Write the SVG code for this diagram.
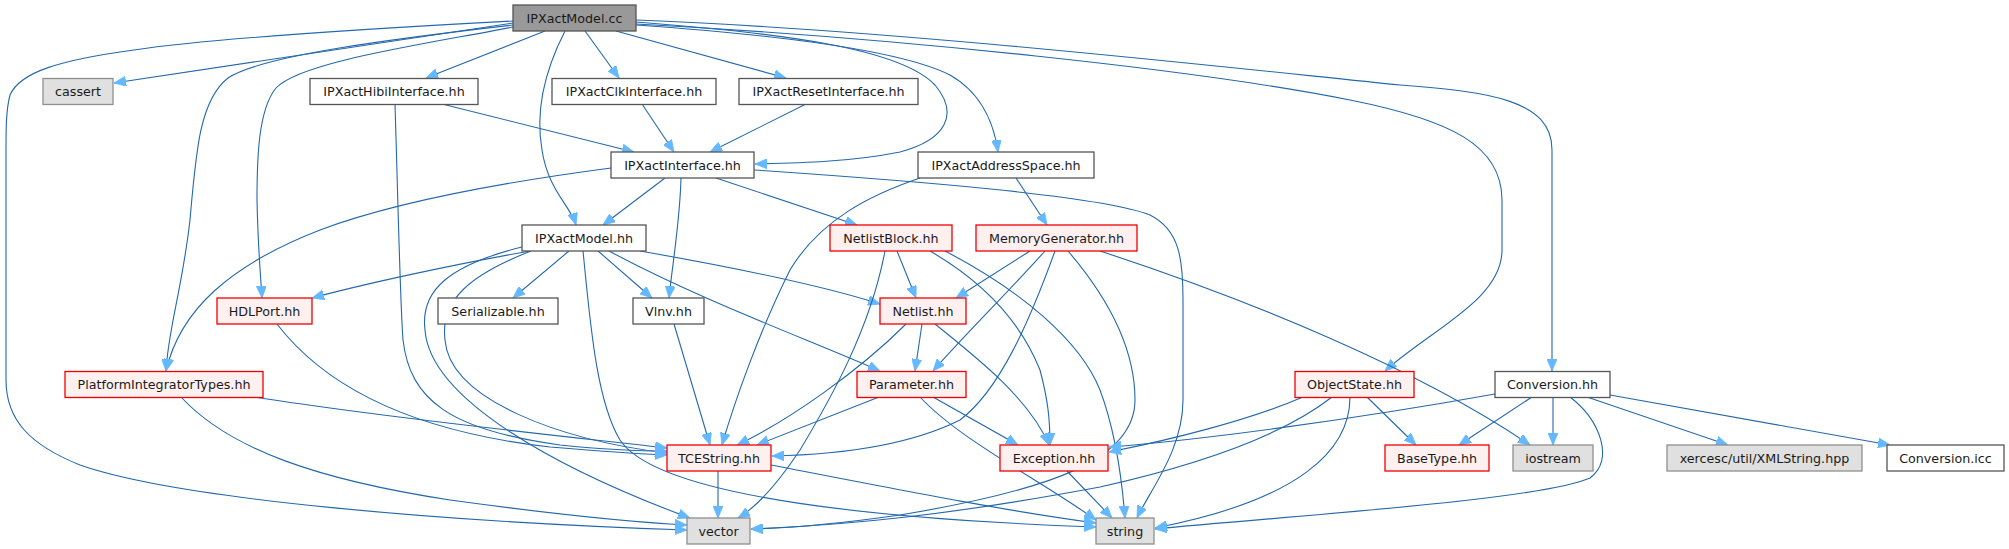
<svg xmlns="http://www.w3.org/2000/svg" width="2009" height="549" viewBox="0 0 2009 549">
<style>
.n rect{stroke-width:1.3}
.w rect{fill:#ffffff;stroke:#555555}
.r rect{fill:#fff0f0;stroke:#ee0000}
.g rect{fill:#e0e0e0;stroke:#8f8f8f}
.root rect{fill:#999999;stroke:#555555}
.n text{font-family:"DejaVu Sans",sans-serif;font-size:12.7px;fill:#1a1a1a;text-anchor:middle}
#edges path{fill:none;stroke:#2468ad;stroke-width:1.1;marker-end:url(#ah)}
</style>
<defs>
<marker id="ah" viewBox="0 0 12 10" refX="12" refY="5" markerWidth="12" markerHeight="10" markerUnits="userSpaceOnUse" orient="auto">
<polygon points="0,0 12,5 0,10" fill="#63b8ff" stroke="#63b8ff" stroke-width="0.8"/>
</marker>
</defs>
<rect width="2009" height="549" fill="#ffffff"/>
<g id="edges">
<path d="M513,23 L114,83"/>
<path d="M513,21 C400,27 220,37 134,50 C60,60 20,72 10,95 C6,110 6,130 6,150 L6,380 C6,420 30,445 80,465 C180,500 450,522 687,530"/>
<path d="M513,25 C400,38 262,55 228,78 C200,100 196,150 190,220 C182,290 168,330 166,371"/>
<path d="M513,27 C420,45 300,62 276,88 C258,110 257,160 257,200 C258,250 261,280 262,298"/>
<path d="M545,31 L426,78"/>
<path d="M565,31 C545,70 535,110 542,150 C548,190 570,205 576,225"/>
<path d="M585,31 L619,78"/>
<path d="M616,31 L786,78"/>
<path d="M636,22 C780,33 900,48 935,85 C960,115 945,140 900,152 C850,162 800,163 755,164"/>
<path d="M636,25 C780,35 900,50 950,75 C985,95 995,130 998,152"/>
<path d="M636,24 C900,38 1200,70 1350,100 C1450,120 1502,145 1502,200 L1502,250 C1502,300 1430,330 1385,371"/>
<path d="M636,20 C900,30 1250,70 1400,85 C1490,92 1552,100 1552,150 L1552,371"/>
<path d="M442,104 L634,152"/>
<path d="M395,104 C398,200 400,300 403,340 C410,400 450,430 560,445 C610,450 640,451 667,451"/>
<path d="M642,104 L674,152"/>
<path d="M806,104 L710,152"/>
<path d="M611,168 C520,180 400,200 320,230 C230,265 180,310 166,371"/>
<path d="M665,178 L603,225"/>
<path d="M681,178 C680,220 673,260 669,298"/>
<path d="M716,178 L857,225"/>
<path d="M754,170 C900,180 1100,195 1150,215 C1180,230 1183,260 1183,300 L1183,400 C1183,450 1150,490 1137,518"/>
<path d="M1016,178 L1047,225"/>
<path d="M920,178 C870,195 820,220 790,270 C760,330 735,400 722,445"/>
<path d="M530,251 C450,265 360,285 312,298"/>
<path d="M569,251 L513,298"/>
<path d="M598,251 L652,298"/>
<path d="M640,251 C720,265 820,285 880,304"/>
<path d="M609,251 C700,300 810,340 880,371"/>
<path d="M583,251 C590,320 596,400 620,440 C660,500 900,520 1096,527"/>
<path d="M522,247 C450,265 420,290 425,330 C430,400 560,470 690,518"/>
<path d="M531,251 C470,275 440,300 445,340 C450,400 560,440 667,453"/>
<path d="M897,251 L916,298"/>
<path d="M885,251 C870,330 830,400 800,450 C780,480 760,505 738,518"/>
<path d="M930,251 C980,280 1020,320 1040,370 C1048,400 1050,420 1050,445"/>
<path d="M945,251 C1020,290 1080,340 1100,390 C1115,430 1122,480 1125,518"/>
<path d="M1030,251 L956,298"/>
<path d="M1045,251 C1010,290 960,340 933,371"/>
<path d="M1055,251 C1030,320 1000,390 960,420 C900,450 820,455 772,456"/>
<path d="M1068,251 C1110,300 1135,350 1135,400 C1135,460 1050,490 900,515 C830,525 790,528 751,529"/>
<path d="M1100,251 C1250,300 1420,370 1530,445"/>
<path d="M922,324 L915,371"/>
<path d="M906,324 C860,370 790,420 737,445"/>
<path d="M935,324 C980,360 1030,400 1049,445"/>
<path d="M879,397 L757,445"/>
<path d="M933,397 L1018,445"/>
<path d="M920,397 C960,440 1040,480 1096,520"/>
<path d="M674,324 L710,445"/>
<path d="M277,324 C320,380 400,430 550,447 C610,452 640,454 667,455"/>
<path d="M254,397 C400,420 600,440 667,448"/>
<path d="M181,397 C230,450 320,480 450,500 C560,515 630,522 687,525"/>
<path d="M718,471 L718,518"/>
<path d="M771,465 C900,490 1000,510 1096,523"/>
<path d="M1067,471 L1112,518"/>
<path d="M1303,397 C1250,420 1170,440 1109,452"/>
<path d="M1332,397 C1290,430 1220,460 1100,487 C950,515 850,525 751,529"/>
<path d="M1367,397 L1416,445"/>
<path d="M1350,397 C1350,450 1300,500 1155,528"/>
<path d="M1495,394 C1350,420 1200,440 1109,447"/>
<path d="M1532,397 L1459,445"/>
<path d="M1553,397 L1553,445"/>
<path d="M1570,397 C1600,420 1615,460 1590,478 C1540,500 1300,515 1155,529"/>
<path d="M1587,397 L1728,445"/>
<path d="M1610,395 L1890,445"/>
</g>
<g id="n_IPXactModel_cc" class="n root"><rect x="513" y="5" width="123" height="26"/><text x="574.5" y="22.5">IPXactModel.cc</text></g>
<g id="n_cassert" class="n g"><rect x="43" y="78.5" width="70" height="26"/><text x="78" y="96">cassert</text></g>
<g id="n_IPXactHibiInterface" class="n w"><rect x="310" y="78.5" width="168" height="26"/><text x="394" y="96">IPXactHibiInterface.hh</text></g>
<g id="n_IPXactClkInterface" class="n w"><rect x="552" y="78.5" width="164" height="26"/><text x="634" y="96">IPXactClkInterface.hh</text></g>
<g id="n_IPXactResetInterface" class="n w"><rect x="739" y="78.5" width="179" height="26"/><text x="828.5" y="96">IPXactResetInterface.hh</text></g>
<g id="n_IPXactInterface" class="n w"><rect x="611" y="152" width="143" height="26"/><text x="682.5" y="169.5">IPXactInterface.hh</text></g>
<g id="n_IPXactAddressSpace" class="n w"><rect x="918" y="152" width="176" height="26"/><text x="1006" y="169.5">IPXactAddressSpace.hh</text></g>
<g id="n_IPXactModel_hh" class="n w"><rect x="522" y="225" width="124" height="26"/><text x="584" y="242.5">IPXactModel.hh</text></g>
<g id="n_NetlistBlock" class="n r"><rect x="830" y="225" width="122" height="26"/><text x="891" y="242.5">NetlistBlock.hh</text></g>
<g id="n_MemoryGenerator" class="n r"><rect x="976" y="225" width="161" height="26"/><text x="1056.5" y="242.5">MemoryGenerator.hh</text></g>
<g id="n_HDLPort" class="n r"><rect x="217" y="298" width="95" height="26"/><text x="264.5" y="315.5">HDLPort.hh</text></g>
<g id="n_Serializable" class="n w"><rect x="438" y="298" width="120" height="26"/><text x="498" y="315.5">Serializable.hh</text></g>
<g id="n_Vlnv" class="n w"><rect x="633" y="298" width="71" height="26"/><text x="668.5" y="315.5">Vlnv.hh</text></g>
<g id="n_Netlist" class="n r"><rect x="880" y="298" width="86" height="26"/><text x="923" y="315.5">Netlist.hh</text></g>
<g id="n_PlatformIntegratorTypes" class="n r"><rect x="65" y="371.5" width="198" height="26"/><text x="164" y="389">PlatformIntegratorTypes.hh</text></g>
<g id="n_Parameter" class="n r"><rect x="857" y="371.5" width="109" height="26"/><text x="911.5" y="389">Parameter.hh</text></g>
<g id="n_ObjectState" class="n r"><rect x="1295" y="371.5" width="119" height="26"/><text x="1354.5" y="389">ObjectState.hh</text></g>
<g id="n_Conversion_hh" class="n w"><rect x="1495" y="371.5" width="115" height="26"/><text x="1552.5" y="389">Conversion.hh</text></g>
<g id="n_TCEString" class="n r"><rect x="667" y="445" width="104" height="26"/><text x="719" y="462.5">TCEString.hh</text></g>
<g id="n_Exception" class="n r"><rect x="1000" y="445" width="108" height="26"/><text x="1054" y="462.5">Exception.hh</text></g>
<g id="n_BaseType" class="n r"><rect x="1385" y="445" width="104" height="26"/><text x="1437" y="462.5">BaseType.hh</text></g>
<g id="n_iostream" class="n g"><rect x="1513" y="445" width="80" height="26"/><text x="1553" y="462.5">iostream</text></g>
<g id="n_xercesc" class="n g"><rect x="1667" y="445" width="195" height="26"/><text x="1764.5" y="462.5">xercesc/util/XMLString.hpp</text></g>
<g id="n_Conversion_icc" class="n w"><rect x="1887" y="445" width="117" height="26"/><text x="1945.5" y="462.5">Conversion.icc</text></g>
<g id="n_vector" class="n g"><rect x="687" y="518" width="63" height="26"/><text x="718.5" y="535.5">vector</text></g>
<g id="n_string" class="n g"><rect x="1096" y="518" width="58" height="26"/><text x="1125" y="535.5">string</text></g>
</svg>
